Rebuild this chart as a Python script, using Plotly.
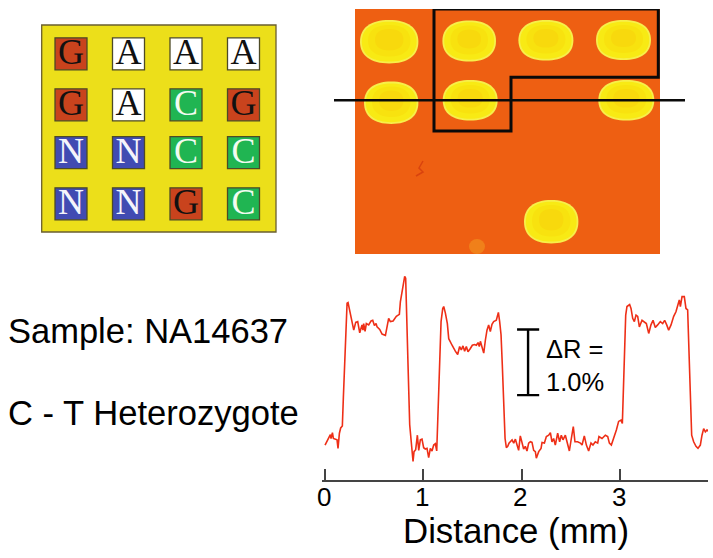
import plotly.graph_objects as go

W, H = 713, 558

# Line scan across the array
distance_mm = [0,.020,.041,.054,.061,.075,.085,.105,.122,.132,.146,.159,.176,.186,.200,.214,.224,.234,.251,.268,.292,.312,.332,.353,.376,.386,.393,.407,.420,.444,.468,.485,.502,.519,.529,.556,.580,.614,.631,.647,.664,.692,.725,.756,.766,.783,.800,.810,.820,.831,.844,.861,.878,.895,.905,.922,.939,.953,.969,.986,1.003,1.020,1.037,1.054,1.071,1.088,1.105,1.122,1.136,1.149,1.166,1.180,1.197,1.207,1.224,1.244,1.258,1.275,1.292,1.325,1.349,1.369,1.386,1.403,1.420,1.437,1.454,1.478,1.498,1.519,1.539,1.556,1.569,1.580,1.597,1.614,1.631,1.647,1.664,1.681,1.698,1.715,1.742,1.763,1.776,1.790,1.803,1.817,1.831,1.844,1.858,1.871,
1.902,1.919,1.936,1.953,1.969,1.986,2.003,2.020,2.037,2.054,2.071,2.088,2.105,2.122,2.139,2.149,2.173,2.197,2.207,2.231,2.251,2.275,2.292,2.308,2.325,2.342,2.366,2.386,2.403,2.420,2.444,2.461,2.485,2.505,2.525,2.542,2.569,2.597,2.614,2.637,2.658,2.681,2.705,2.725,2.749,2.773,2.786,2.817,2.851,2.875,2.892,2.912,2.936,2.963,2.986,3.010,3.024,3.031,3.044,3.058,3.071,3.098,3.112,3.129,3.146,3.163,3.180,3.197,3.224,3.247,3.268,3.292,3.315,3.336,3.359,3.383,3.410,3.434,3.454,3.475,3.495,3.519,3.546,3.569,3.586,3.603,3.614,3.631,3.654,3.671,3.688,3.702,3.715,3.729,3.749,3.773,3.793,3.817,3.834,3.851,3.868,3.885,3.908]
delta_r = [.05,.11,.18,.21,.15,.24,.15,.14,.13,0,.23,.31,.34,.76,1.37,2.03,2.21,2.22,2.11,1.95,1.80,1.92,1.93,1.76,1.88,1.80,1.90,1.78,1.90,1.88,1.94,1.95,1.87,1.90,1.85,1.81,1.74,1.72,1.85,1.98,1.93,1.94,2.01,2.04,2.23,2.39,2.59,2.62,2.59,2.13,1.27,.36,0,-.20,-.05,-.02,.20,-.03,.13,.14,.01,-.01,0,-.14,0,-.04,.05,.07,-.04,.51,1.47,1.93,2.13,2.16,2.06,1.90,1.67,1.63,1.57,1.48,1.43,1.55,1.50,1.56,1.48,1.55,1.47,1.52,1.57,1.58,1.57,1.61,1.55,1.63,1.55,1.45,1.65,1.80,1.88,1.78,1.89,1.93,1.95,2.07,1.93,1.73,1.27,.66,.15,.01,.03,.08,
.13,.08,.14,.05,-.03,.19,.10,-.01,.03,-.04,.08,.10,.09,-.03,-.05,-.15,-.05,0,.09,.08,.18,.20,.24,.10,.15,.05,.23,.10,.20,.13,.20,.08,-.04,.15,.33,.10,.10,.08,.05,.19,.05,-.04,.08,.05,.10,.08,.18,.15,.20,.18,.08,.05,.15,.28,.41,.43,.38,.76,1.52,2.03,2.16,2.19,2.13,1.98,1.93,2.03,2.01,1.85,1.95,1.93,1.90,1.75,1.88,1.95,1.84,1.88,1.93,1.90,1.95,1.88,1.80,1.88,2.01,2.08,2.16,2.26,2.16,2.31,2.31,2.13,2.11,1.52,.76,.20,.10,.03,0,.05,.20,.30,.25,.28,.25]
x_ticks = [0, 1, 2, 3]
x_title = "Distance (mm)"
scale_mm = [2.065, 2.065]
scale_r = [0.81, 1.81]
scale_cap_mm = [1.953, 2.178]

# Layout of probes on the array
grid_letters = [["G", "A", "A", "A"], ["G", "A", "C", "G"], ["N", "N", "C", "C"], ["N", "N", "G", "C"]]
col_pos = [71, 128.5, 186, 243.5]
row_pos = [53.8, 104.8, 152.7, 203.8]
fills = {"G": "#c9431d", "A": "#ffffff", "C": "#20b552", "N": "#414bb2"}
inks = {"G": "#111111", "A": "#111111", "C": "#f2fbf0", "N": "#f4f4fb"}

# Spots on the SPR image: centre x, centre y, radius x, radius y
spot_cx = [389.2, 469.2, 545.9, 623.5, 391.2, 470.2, 626.3, 551.2]
spot_cy = [41.7, 41.0, 40.3, 40.0, 102.8, 100.3, 100.3, 221.7]
spot_rx = [29.2, 26.8, 27.5, 27.5, 27.2, 27.5, 28.0, 27.2]
spot_ry = [21.7, 20.5, 20.3, 20.0, 21.2, 20.3, 20.3, 21.7]

TXT = "Liberation Sans, Helvetica, Arial, sans-serif"
px = lambda v: v / W
py = lambda v: 1 - v / H

def spath(cx, cy, rx, ry, k=0.64):
    a, b = rx * k, ry * k
    return (f"M{cx-rx},{cy} C{cx-rx},{cy-b} {cx-a},{cy-ry} {cx},{cy-ry} "
            f"C{cx+a},{cy-ry} {cx+rx},{cy-b} {cx+rx},{cy} "
            f"C{cx+rx},{cy+b} {cx+a},{cy+ry} {cx},{cy+ry} "
            f"C{cx-a},{cy+ry} {cx-rx},{cy+b} {cx-rx},{cy} Z")

fig = go.Figure()

fig.add_trace(go.Scatter(x=distance_mm, y=delta_r, mode="lines", line=dict(color="#ee2f17", width=1.6),
                         xaxis="x", yaxis="y", hoverinfo="skip", showlegend=False))
fig.add_trace(go.Scatter(x=scale_mm + [None] + scale_cap_mm + [None] + scale_cap_mm,
                         y=scale_r + [None] + [scale_r[1]] * 2 + [None] + [scale_r[0]] * 2,
                         mode="lines", line=dict(color="#000000", width=2.4),
                         xaxis="x", yaxis="y", hoverinfo="skip", showlegend=False))

gx, gy, gc, gi, gt = [], [], [], [], []
for r, row in enumerate(grid_letters):
    for c, L in enumerate(row):
        gx.append(col_pos[c]); gy.append(row_pos[r]); gc.append(fills[L]); gi.append(inks[L]); gt.append(L)
fig.add_trace(go.Scatter(x=gx, y=gy, mode="markers",
                         marker=dict(symbol="square", size=32, color=gc, line=dict(color="#4d4a26", width=1.3)),
                         xaxis="x2", yaxis="y2", hoverinfo="skip", showlegend=False))
fig.add_trace(go.Scatter(x=gx, y=[v + 1.5 for v in gy], mode="text", text=gt, textposition="middle center",
                         textfont=dict(family="Liberation Serif, Times New Roman, serif", size=36, color=gi),
                         xaxis="x2", yaxis="y2", hoverinfo="skip", showlegend=False))

shapes = []
shapes.append(dict(type="rect", xref="paper", yref="paper", x0=px(41.7), x1=px(276), y0=py(25), y1=py(232),
                   fillcolor="#ecdf1a", line=dict(color="#6a5f30", width=1.3), layer="below"))
shapes.append(dict(type="rect", xref="paper", yref="paper", x0=px(355), x1=px(660), y0=py(9), y1=py(254),
                   fillcolor="#ee5f12", line=dict(width=0), layer="below"))
shapes.append(dict(type="circle", xref="x3", yref="y3", x0=469, x1=485, y0=239, y1=254,
                   fillcolor="#f0801a", line=dict(width=0), layer="below"))
for cx, cy, rx, ry in zip(spot_cx, spot_cy, spot_rx, spot_ry):
    shapes.append(dict(type="path", xref="x3", yref="y3", path=spath(cx, cy, rx, ry),
                       fillcolor="#f7ef4a", line=dict(width=0), layer="below"))
    shapes.append(dict(type="path", xref="x3", yref="y3", path=spath(cx, cy, rx - 1.8, ry - 1.8),
                       fillcolor="#f8ea14", line=dict(width=0), layer="below"))
    shapes.append(dict(type="path", xref="x3", yref="y3", path=spath(cx, cy - 1, rx - 8, ry - 6),
                       fillcolor="#f8e20f", line=dict(width=0), layer="below"))
    shapes.append(dict(type="path", xref="x3", yref="y3", path=spath(cx, cy - 2, rx - 15, ry - 11),
                       fillcolor="#f8d90d", line=dict(width=0), layer="below"))
shapes.append(dict(type="path", xref="x3", yref="y3", path="M423,161 L419,168 L423,172 L416,176",
                   line=dict(color="#d9430e", width=1.5), layer="below"))
shapes.append(dict(type="path", xref="x3", yref="y3",
                   path="M434,9 L658.3,9 L658.3,77.3 L511,77.3 L511,131 L434,131 Z",
                   line=dict(color="#0a0a0a", width=3), layer="above"))
shapes.append(dict(type="line", xref="paper", yref="paper", x0=px(334), x1=px(685), y0=py(100.3), y1=py(100.3),
                   line=dict(color="#0a0a0a", width=2.4), layer="above"))

ann = [
    dict(text="Sample: NA14637", x=px(6), y=py(331), font=dict(size=34.5)),
    dict(text="C - T Heterozygote", x=px(6), y=py(413), font=dict(size=34.6)),
    dict(text="ΔR =", x=px(544), y=py(349), font=dict(size=25.5)),
    dict(text="1.0%", x=px(544), y=py(382), font=dict(size=25.5)),
]
for a in ann:
    a.update(xref="paper", yref="paper", xanchor="left", yanchor="middle", showarrow=False)
    a["font"].update(family=TXT, color="#000000")
for t in x_ticks:
    ann.append(dict(text=str(t), xref="x", yref="paper", x=t - 0.015, y=py(497), xanchor="center", yanchor="middle",
                    showarrow=False, font=dict(family=TXT, size=26, color="#000000")))
ann.append(dict(text=x_title, xref="paper", yref="paper", x=px(516), y=py(530), xanchor="center", yanchor="middle",
                showarrow=False, font=dict(family=TXT, size=34.8, color="#000000")))

hidden = dict(visible=False, showgrid=False, zeroline=False)
fig.update_layout(
    width=W, height=H, margin=dict(l=0, r=0, t=0, b=0), paper_bgcolor="white", plot_bgcolor="rgba(0,0,0,0)",
    showlegend=False, shapes=shapes, annotations=ann,
    xaxis=dict(domain=[px(321.7), px(708)], range=[-0.034, 3.895], tickvals=x_ticks, showticklabels=False,
               ticks="inside", ticklen=11, tickwidth=1.5, tickcolor="#444444", showline=True, linecolor="#444444",
               linewidth=1.5, showgrid=False, zeroline=False, anchor="y", automargin=False),
    yaxis=dict(domain=[py(480), py(265)], range=[-0.482, 2.792], **hidden, anchor="x"),
    xaxis2=dict(domain=[px(41.7), px(276)], range=[41.7, 276], **hidden, anchor="y2"),
    yaxis2=dict(domain=[py(232), py(25)], range=[232, 25], **hidden, anchor="x2"),
    xaxis3=dict(domain=[px(355), px(660)], range=[355, 660], **hidden, anchor="y3"),
    yaxis3=dict(domain=[py(254), py(9)], range=[254, 9], **hidden, anchor="x3"),
)

fig.write_html("out.html", config={"displayModeBar": False},
               post_script="document.body.style.margin='0';document.documentElement.style.overflow='hidden';")
